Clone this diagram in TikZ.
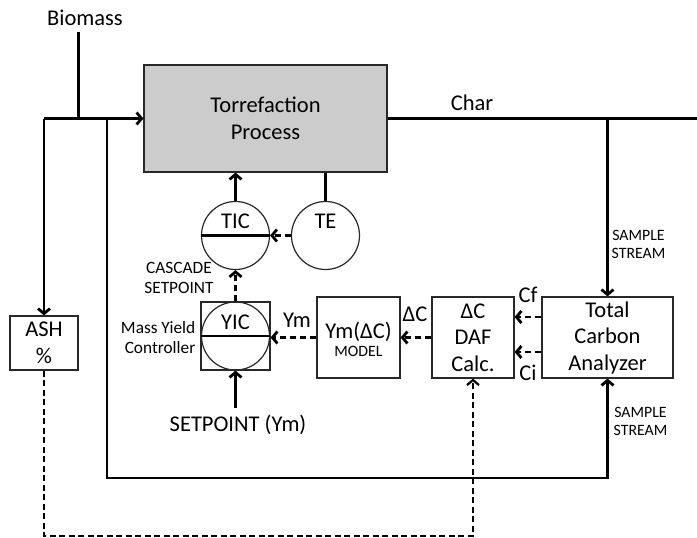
\documentclass[tikz,border=0pt]{standalone}
\usepackage{fontspec}
\setmainfont{Carlito}
\usetikzlibrary{arrows.meta,calc}
\newcommand\BigTxt{\fontsize{22.5}{26.5}\selectfont}
\newcommand\MidTxt{\fontsize{17.3}{19.5}\selectfont}
\newcommand\SmTxt{\fontsize{15.8}{17.5}\selectfont}
\definecolor{procgray}{RGB}{204,204,204}
\definecolor{edge}{RGB}{40,40,40}
\begin{document}
\begin{tikzpicture}[x=1pt,y=-1pt,
  box/.style={draw=edge, line width=1.2pt, inner sep=0pt, align=center, font=\BigTxt},
  circ/.style={circle, draw=edge, line width=1.2pt, minimum size=68pt, inner sep=0pt},
  flow/.style={line width=2.8pt},
  arr/.style={flow, -{Straight Barb[length=5pt,width=12pt]}},
  darr/.style={line width=2.8pt, dash pattern=on 6pt off 4pt, -{Straight Barb[length=5pt,width=12pt]}},
  ashline/.style={line width=2.2pt, dash pattern=on 6pt off 3.5pt, -{Straight Barb[length=5pt,width=12pt]}},
  bar/.style={line width=2.8pt},
  lbl/.style={inner sep=0pt, align=center}
]
\useasboundingbox (0,0) rectangle (697,538);

% boxes
\node[box, fill=procgray, minimum width=243pt, minimum height=107pt] (proc) at (265.5,118.5) {Torrefaction\\Process};
\node[box, minimum width=131pt, minimum height=81pt] (tca) at (607.5,337.5) {Total\\Carbon\\Analyzer};
\node[box, minimum width=82pt, minimum height=81pt] (daf) at (473,337.5) {ΔC\\DAF\\Calc.};
\node[box, minimum width=83pt, minimum height=81pt] (model) at (358.5,337.5) {};
\node[lbl, font=\BigTxt] (modeltxt) at (358.5,332) {Ym(ΔC)};
\node[lbl, font=\SmTxt] (modelsub) at (358.5,351) {MODEL};
\node[box, minimum width=68pt, minimum height=54pt] (ash) at (44,343) {ASH\\\%};

% instruments
\node[circ] (tic) at (235.5,235.5) {};
\draw[bar] (tic.west) -- (tic.east);
\node[lbl, font=\BigTxt] (tictxt) at (235.5,221) {TIC};
\node[circ] (te) at (325.5,235.5) {};
\node[lbl, font=\BigTxt] (tetxt) at (325.5,221) {TE};
\node[draw=edge, line width=1.2pt, minimum width=69pt, minimum height=68pt, inner sep=0pt] (yicbox) at (235.5,336) {};
\node[circ] (yic) at (235.5,336) {};
\draw[bar] (yic.west) -- (yic.east);
\node[lbl, font=\BigTxt] (yictxt) at (235.5,322) {YIC};

% labels
\node[lbl, font=\BigTxt] (biomass) at (85,18) {Biomass};
\node[lbl, font=\BigTxt] (char) at (472,103) {Char};
\node[lbl, font=\SmTxt] (ss1) at (638.5,244.5) {SAMPLE\\STREAM};
\node[lbl, font=\SmTxt] (ss2) at (640.5,421.5) {SAMPLE\\STREAM};
\node[lbl, font=\MidTxt] (casc) at (179,278) {CASCADE\\SETPOINT};
\node[lbl, font=\MidTxt, align=right, anchor=east] (myc) at (195.5,337.5) {Mass Yield\\Controller};
\node[lbl, font=\BigTxt] (ym) at (297,320) {Ym};
\node[lbl, font=\BigTxt] (dc) at (415,314) {ΔC};
\node[lbl, font=\BigTxt] (cf) at (528,295) {Cf};
\node[lbl, font=\BigTxt] (ci) at (528,373) {Ci};
\node[lbl, font=\BigTxt] (sp) at (238,425) {SETPOINT (Ym)};

% coordinates
\coordinate (bio) at (78.5,32);
\coordinate (jb) at (78.5,118.5);
\coordinate (jl) at (44,118.5);
\coordinate (jr) at (107,118.5);
\coordinate (bl) at (107,478);
\coordinate (charend) at (697,118.5);
\coordinate (jc) at (607.5,118.5);
\coordinate (spstart) at (235.5,408);
\coordinate (ashb) at (44,536);

% solid flows
\draw[flow] (bio) -- (jb);
\draw[arr] (jl) -- (proc.west);
\draw[arr] (jl) -- (ash.north);
\draw[arr] (jr) -- (bl) -| (tca.south);
\draw[flow] (proc.east) -- (charend);
\draw[arr] (jc) -- (tca.north);
\draw[flow] (te.north) -- (te.north |- proc.south);
\draw[arr] (tic.north) -- (tic.north |- proc.south);
\draw[arr] (spstart) -- (yicbox.south);

% signals
\draw[darr] (te.west) -- (tic.east);
\draw[darr] (yicbox.north) -- (tic.south);
\draw[darr] (model.west) -- (model.west -| yicbox.east);
\draw[darr] (daf.west) -- (model.east);
\draw[darr] ([yshift=20.5pt]tca.west) -- ([yshift=20.5pt]daf.east);
\draw[darr] ([yshift=-14.5pt]tca.west) -- ([yshift=-14.5pt]daf.east);
\draw[ashline] (ash.south) -- (ashb) -| (daf.south);
\end{tikzpicture}
\end{document}
